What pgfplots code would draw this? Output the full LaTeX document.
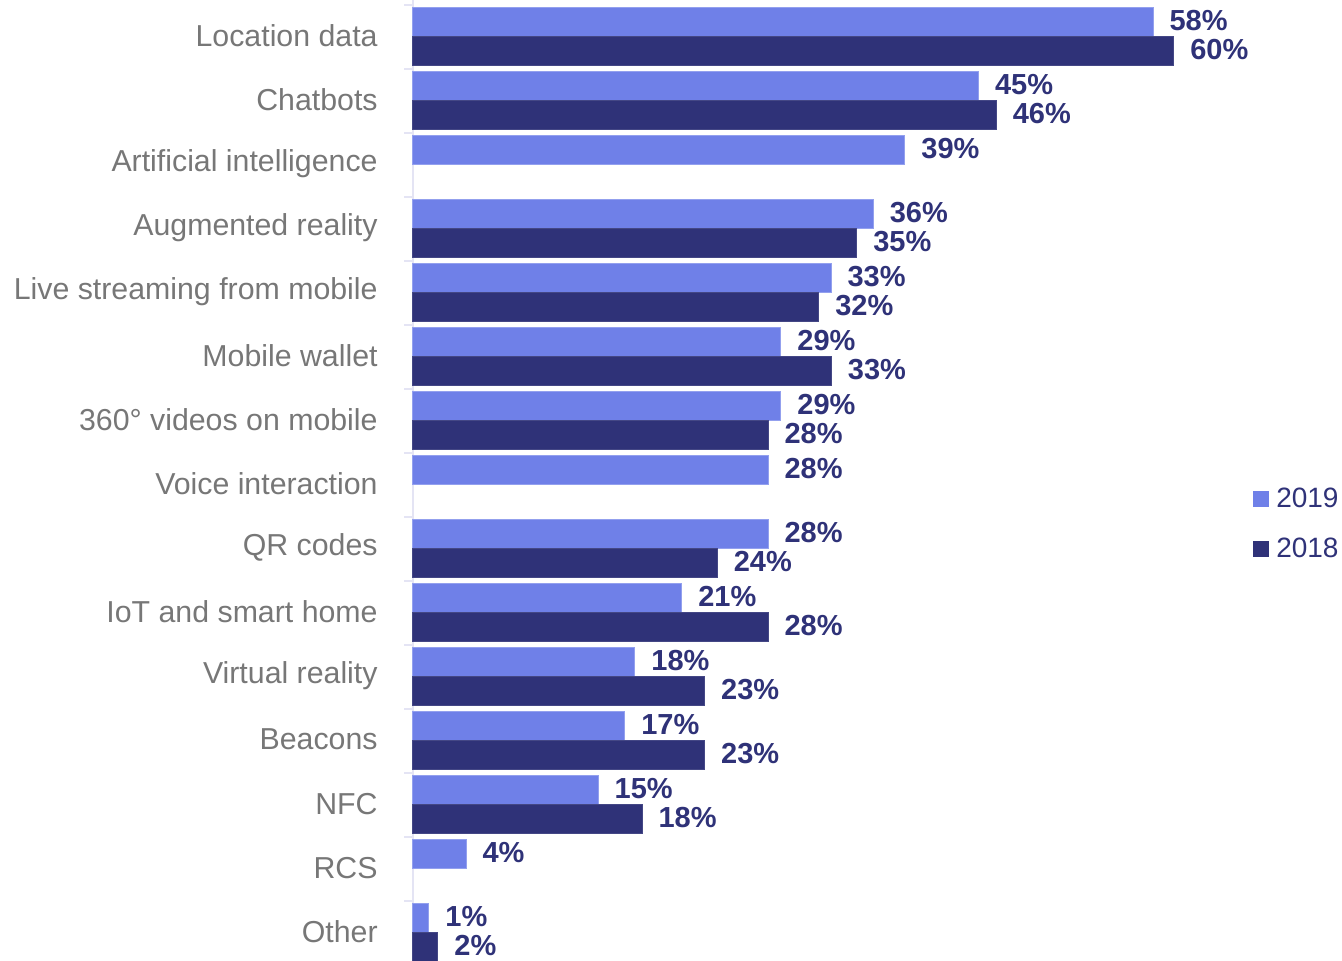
\documentclass[border=0pt]{standalone}
\usepackage{fontspec}
\setmainfont{Liberation Sans}
\usepackage{pgfplots}
\pgfplotsset{compat=1.18}
\usepackage{pgfplotstable}
\definecolor{cLight}{HTML}{6F80E8}
\definecolor{cDark}{HTML}{2F3278}
\definecolor{cLab}{HTML}{777777}
\definecolor{cAxis}{HTML}{E4E4F4}

\pgfplotstableread{
y x lab
14 58.36 58
13 44.6 45
12 38.8 39
11 36.3 36
10 32.97 33
9 29.02 29
8 29.02 29
7 28.0 28
6 28.0 28
5 21.2 21
4 17.5 18
3 16.7 17
2 14.6 15
1 4.18 4
0 1.26 1
}\tabA

\pgfplotstableread{
y x lab
14 60 60
13 46 46
11 35 35
10 32 32
9 33 33
8 28 28
6 24 24
5 28 28
4 23 23
3 23 23
2 18.06 18
0 1.97 2
}\tabB

\begin{document}
\begin{tikzpicture}
\begin{axis}[
 name=ax, at={(0,0)}, anchor=south west,
 x=6.34pt, y=32pt,
 xmin=0, xmax=65, ymin=-0.4375, ymax=14.578,
 xbar, bar width=14.5pt,
 axis x line=none, axis y line*=left,
 axis line style={cAxis, line width=0.8pt},
 ytick={0,...,14},
 yticklabels={Other,RCS,NFC,Beacons,Virtual reality,IoT and smart home,QR codes,Voice interaction,360° videos on mobile,Mobile wallet,Live streaming from mobile,Augmented reality,Artificial intelligence,Chatbots,Location data},
 major tick length=0pt,
 minor ytick={0.5,1.5,...,14.5},
 minor tick length=4.5pt, tick align=outside,
 minor tick style={cAxis, line width=0.8pt},
 yticklabel style={font=\fontsize{15.15}{18}\selectfont, text=cLab, inner sep=0pt, xshift=-17.5pt, yshift=0.7pt},
 clip=false,
 nodes near coords={\pgfplotspointmeta\%},
 point meta=explicit symbolic,
 nodes near coords style={font=\bfseries\fontsize{14.5}{16}\selectfont, text=cDark, anchor=west, inner sep=0pt, xshift=8pt, yshift=0.8pt},
 legend style={at={(1.019,0.4547)}, anchor=west, draw=none, fill=none, inner sep=0pt,
   font=\fontsize{14}{16}\selectfont, text=cDark, row sep=14pt,
   nodes={inner sep=0pt},
   /tikz/every odd column/.append style={column sep=3.5pt}},
 legend cell align=left,
]
\addplot[fill=cLight, draw=cLight!75!white, line width=0.5pt, bar shift=7.25pt,
  legend image code/.code={\fill[cLight] (0pt,-3.75pt) rectangle (7.5pt,3.75pt);}]
  table[y=y, x=x, meta=lab] {\tabA};
\addlegendentry{2019}
\addplot[fill=cDark, draw=cDark!90!white, line width=0.5pt, bar shift=-7.25pt,
  legend image code/.code={\fill[cDark] (0pt,-3.75pt) rectangle (7.5pt,3.75pt);}]
  table[y=y, x=x, meta=lab] {\tabB};
\addlegendentry{2018}
\end{axis}
\pgfresetboundingbox
\path[use as bounding box] (-206.5pt,0pt) rectangle (464.5pt,480.5pt);
\end{tikzpicture}
\end{document}
